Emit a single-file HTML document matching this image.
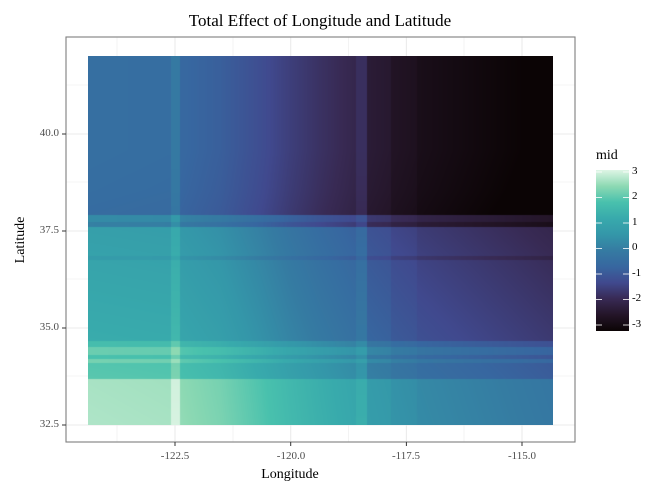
<!DOCTYPE html>
<html><head><meta charset="utf-8"><style>
body{margin:0;background:#fff;width:660px;height:499px;overflow:hidden;position:relative;font-family:"Liberation Serif",serif}
.t{position:absolute;white-space:nowrap}
</style></head><body>
<svg width="660" height="499" style="position:absolute;left:0;top:0">
<g stroke="#ebebeb" stroke-width="0.6">
<line x1="117" y1="37" x2="117" y2="442"/><line x1="233" y1="37" x2="233" y2="442"/><line x1="348.5" y1="37" x2="348.5" y2="442"/><line x1="464" y1="37" x2="464" y2="442"/>
<line x1="66" y1="85" x2="575" y2="85"/><line x1="66" y1="182" x2="575" y2="182"/><line x1="66" y1="279" x2="575" y2="279"/><line x1="66" y1="376" x2="575" y2="376"/>
</g>
<g stroke="#ebebeb" stroke-width="1.1">
<line x1="175" y1="37" x2="175" y2="442"/><line x1="290.7" y1="37" x2="290.7" y2="442"/><line x1="406.4" y1="37" x2="406.4" y2="442"/><line x1="522" y1="37" x2="522" y2="442"/>
<line x1="66" y1="134" x2="575" y2="134"/><line x1="66" y1="231" x2="575" y2="231"/><line x1="66" y1="328" x2="575" y2="328"/><line x1="66" y1="425" x2="575" y2="425"/>
</g>
<foreignObject x="88" y="56" width="465" height="369"><canvas id="c" width="465" height="369" xmlns="http://www.w3.org/1999/xhtml"></canvas></foreignObject>
<rect x="66" y="37" width="509" height="405" fill="none" stroke="#7f7f7f" stroke-width="1.1"/>
<g stroke="#333" stroke-width="1">
<line x1="175" y1="442" x2="175" y2="446"/><line x1="290.7" y1="442" x2="290.7" y2="446"/><line x1="406.4" y1="442" x2="406.4" y2="446"/><line x1="522" y1="442" x2="522" y2="446"/>
<line x1="62" y1="134" x2="66" y2="134"/><line x1="62" y1="231" x2="66" y2="231"/><line x1="62" y1="328" x2="66" y2="328"/><line x1="62" y1="425" x2="66" y2="425"/>
</g>
<defs><linearGradient id="lg" x1="0" y1="1" x2="0" y2="0">
<stop offset="0" stop-color="#0B0405"/><stop offset="0.1" stop-color="#241528"/><stop offset="0.2" stop-color="#382A54"/><stop offset="0.3" stop-color="#40498E"/><stop offset="0.4" stop-color="#3767A0"/><stop offset="0.5" stop-color="#357BA2"/><stop offset="0.6" stop-color="#3497A9"/><stop offset="0.7" stop-color="#38AAAC"/><stop offset="0.8" stop-color="#49C1AD"/><stop offset="0.9" stop-color="#8DD9B3"/><stop offset="1" stop-color="#DEF5E5"/>
</linearGradient></defs>
<rect x="596" y="170" width="33" height="161" fill="url(#lg)"/>
<g stroke="#fff" stroke-width="1" opacity="0.8">
<line x1="596" y1="172" x2="602" y2="172"/><line x1="623" y1="172" x2="629" y2="172"/>
<line x1="596" y1="197.5" x2="602" y2="197.5"/><line x1="623" y1="197.5" x2="629" y2="197.5"/>
<line x1="596" y1="223" x2="602" y2="223"/><line x1="623" y1="223" x2="629" y2="223"/>
<line x1="596" y1="248.5" x2="602" y2="248.5"/><line x1="623" y1="248.5" x2="629" y2="248.5"/>
<line x1="596" y1="274" x2="602" y2="274"/><line x1="623" y1="274" x2="629" y2="274"/>
<line x1="596" y1="299.5" x2="602" y2="299.5"/><line x1="623" y1="299.5" x2="629" y2="299.5"/>
<line x1="596" y1="325" x2="602" y2="325"/><line x1="623" y1="325" x2="629" y2="325"/>
</g>
</svg>
<div class="t" style="left:0;width:640px;top:11px;text-align:center;font-size:17px;color:#000">Total Effect of Longitude and Latitude</div>
<div class="t" style="left:245px;width:90px;top:467px;text-align:center;font-size:14px">Longitude</div>
<div class="t" style="left:-14px;top:232px;font-size:14px;transform:rotate(-90deg);width:70px;text-align:center">Latitude</div>
<div class="t" style="left:145px;width:60px;top:450px;text-align:center;font-size:11px;color:#4d4d4d">-122.5</div>
<div class="t" style="left:261px;width:60px;top:450px;text-align:center;font-size:11px;color:#4d4d4d">-120.0</div>
<div class="t" style="left:376px;width:60px;top:450px;text-align:center;font-size:11px;color:#4d4d4d">-117.5</div>
<div class="t" style="left:492px;width:60px;top:450px;text-align:center;font-size:11px;color:#4d4d4d">-115.0</div>
<div class="t" style="left:20px;width:39px;top:127px;text-align:right;font-size:11px;color:#4d4d4d">40.0</div>
<div class="t" style="left:20px;width:39px;top:224px;text-align:right;font-size:11px;color:#4d4d4d">37.5</div>
<div class="t" style="left:20px;width:39px;top:321px;text-align:right;font-size:11px;color:#4d4d4d">35.0</div>
<div class="t" style="left:20px;width:39px;top:418px;text-align:right;font-size:11px;color:#4d4d4d">32.5</div>
<div class="t" style="left:596px;top:148px;font-size:14px">mid</div>
<div class="t" style="left:632px;top:165px;font-size:11px">3</div>
<div class="t" style="left:632px;top:190px;font-size:11px">2</div>
<div class="t" style="left:632px;top:216px;font-size:11px">1</div>
<div class="t" style="left:632px;top:241px;font-size:11px">0</div>
<div class="t" style="left:632px;top:267px;font-size:11px">-1</div>
<div class="t" style="left:632px;top:292px;font-size:11px">-2</div>
<div class="t" style="left:632px;top:318px;font-size:11px">-3</div>
<script>
var stops=[[0,"0B0405"],[0.1,"241528"],[0.2,"382A54"],[0.3,"40498E"],[0.4,"3767A0"],[0.5,"357BA2"],[0.6,"3497A9"],[0.7,"38AAAC"],[0.8,"49C1AD"],[0.9,"8DD9B3"],[1,"DEF5E5"]].map(function(s){var h=s[1];return [s[0],parseInt(h.substr(0,2),16),parseInt(h.substr(2,2),16),parseInt(h.substr(4,2),16)];});
function cmap(v){var t=(v+3)/6;if(t<0)t=0;if(t>1)t=1;for(var i=1;i<stops.length;i++){if(t<=stops[i][0]){var a=stops[i-1],b=stops[i],u=(t-a[0])/(b[0]-a[0]);return [a[1]+(b[1]-a[1])*u,a[2]+(b[2]-a[2])*u,a[3]+(b[3]-a[3])*u];}}return [222,245,229];}
function pw(pts,x){if(x<=pts[0][0])return pts[0][1];for(var i=1;i<pts.length;i++){if(x<=pts[i][0]){var a=pts[i-1],b=pts[i];return a[1]+(b[1]-a[1])*(x-a[0])/(b[0]-a[0]);}}return pts[pts.length-1][1];}
var F=[[88,0],[170,-0.05],[171,0.3],[179,0.3],[180,-0.2],[220,-0.4],[260,-0.75],[290,-1.05],[320,-1.3],[355,-1.55],[356,-1.35],[366,-1.35],[367,-1.85],[390,-1.95],[391,-2.1],[416,-2.2],[417,-2.3],[553,-2.75]];
var G=[[56,-0.35],[150,-0.35],[190,-0.4],[214,-0.45],[215,0.35],[221,0.35],[222,0.1],[226,0.1],[227,0.85],[255,0.95],[256,0.75],[259,0.75],[260,1.0],[340,1.25],[341,1.7],[346,1.7],[347,2.1],[354,2.1],[355,1.8],[358,1.8],[359,2.2],[362,2.2],[363,1.9],[378,1.95],[379,2.6],[425,2.65]];
var cv=document.getElementById('c'),ctx=cv.getContext('2d'),W=465,H=369,img=ctx.createImageData(W,H),d=img.data;
var fx=[],gy=[];for(var i=0;i<W;i++)fx.push(pw(F,88+i));for(var j=0;j<H;j++)gy.push(pw(G,56+j));
for(var j=0;j<H;j++)for(var i=0;i<W;i++){var c=cmap(fx[i]+gy[j]),k=(j*W+i)*4;d[k]=c[0];d[k+1]=c[1];d[k+2]=c[2];d[k+3]=255;}
ctx.putImageData(img,0,0);
</script>
</body></html>
